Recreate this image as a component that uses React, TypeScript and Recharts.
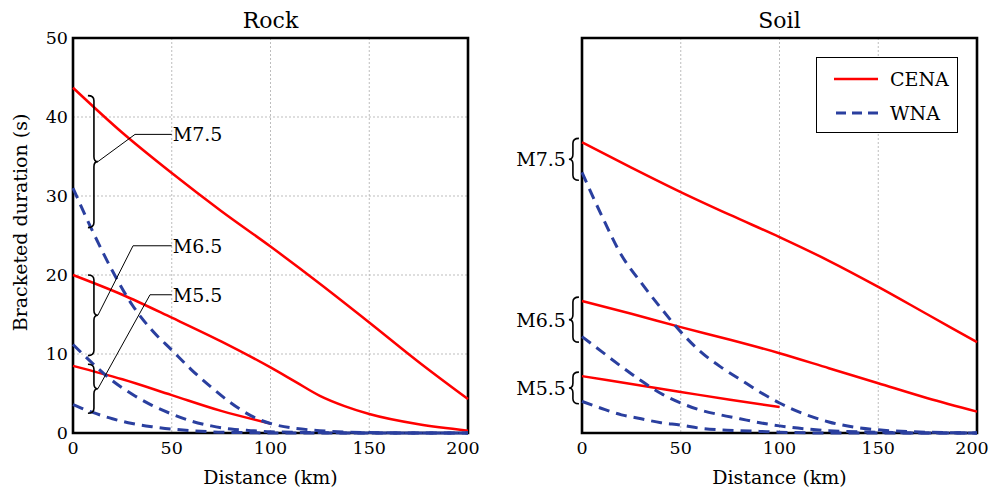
import { CartesianGrid, Legend, Line, LineChart, ReferenceArea, ReferenceLine, XAxis, YAxis } from 'recharts';

const FONT = 'DejaVu Serif';
const RED = '#ff0000';
const BLUE = '#2a3f9f';

// distances (km)
const cenaDist = [0, 25, 50, 75, 100, 125, 150, 175, 200];
const cenaDistFine = [0, 25, 50, 75, 100, 112.5, 125, 137.5, 150, 175, 200];
const cenaDistShort = [0, 25, 50, 75, 100];
const wnaDist = [0, 10, 20, 30, 40, 50, 60, 70, 80, 90, 100, 125, 150, 175, 200];

// Rock, bracketed duration (s)
const rockCena75 = [43.7, 38.0, 32.9, 28.1, 23.6, 18.9, 14.0, 9.0, 4.3];
const rockCena65 = [20.0, 17.5, 14.6, 11.6, 8.3, 6.5, 4.7, 3.4, 2.4, 1.1, 0.3];
const rockCena55 = [8.5, 6.8, 4.8, 2.8, 1.2];
const rockWna75 = [31.0, 25.5, 20.5, 16.2, 13.0, 10.5, 8.0, 5.8, 3.8, 2.2, 1.2, 0.3, 0.05, 0, 0];
const rockWna65 = [11.2, 8.8, 6.6, 4.9, 3.5, 2.4, 1.5, 0.9, 0.5, 0.3, 0.15, 0.05, 0, 0, 0];
const rockWna55 = [3.6, 2.6, 1.8, 1.2, 0.8, 0.5, 0.3, 0.15, 0.08, 0.03, 0, 0, 0, 0, 0];

// Soil, bracketed duration (s)
const soilCena75 = [36.8, 33.6, 30.5, 27.6, 24.8, 21.8, 18.5, 15.0, 11.5];
const soilCena65 = [16.7, 15.1, 13.4, 11.8, 10.1, 8.2, 6.3, 4.4, 2.7];
const soilCena55 = [7.2, 6.2, 5.2, 4.2, 3.3];
const soilWna75 = [33.0, 27.5, 22.5, 19.0, 15.8, 12.8, 10.3, 8.4, 6.8, 5.2, 3.8, 1.4, 0.4, 0.1, 0];
const soilWna65 = [12.2, 10.3, 8.4, 6.6, 5.0, 3.8, 2.9, 2.3, 1.8, 1.3, 0.9, 0.3, 0.1, 0, 0];
const soilWna55 = [4.0, 3.1, 2.3, 1.8, 1.3, 1.0, 0.6, 0.4, 0.3, 0.2, 0.1, 0, 0, 0, 0];

const xTicks = [0, 50, 100, 150, 200];
const yTicks = [0, 10, 20, 30, 40, 50];
const magnitudes = ['M7.5', 'M6.5', 'M5.5'];

// brace annotations in data units: [x, top, bottom]
const rockBraces = [[10.6, 42.7, 26.0], [10.6, 20.0, 9.8], [10.6, 8.7, 2.5]];
const rockElbows = [[31.4, 37.8], [30.4, 23.7], [39.0, 17.5]];
const soilBraces = [[-4.6, 37.3, 32.0], [-4.6, 17.2, 11.5], [-4.6, 7.7, 3.7]];

const zip = (xs: number[], ys: number[]) => ys.map((v, i) => ({ d: xs[i], v }));

const rockSeries = [
  { data: zip(cenaDist, rockCena75), wna: false },
  { data: zip(cenaDistFine, rockCena65), wna: false },
  { data: zip(cenaDistShort, rockCena55), wna: false },
  { data: zip(wnaDist, rockWna75), wna: true },
  { data: zip(wnaDist, rockWna65), wna: true },
  { data: zip(wnaDist, rockWna55), wna: true },
];

const soilSeries = [
  { data: zip(cenaDist, soilCena75), wna: false },
  { data: zip(cenaDist, soilCena65), wna: false },
  { data: zip(cenaDistShort, soilCena55), wna: false },
  { data: zip(wnaDist, soilWna75), wna: true },
  { data: zip(wnaDist, soilWna65), wna: true },
  { data: zip(wnaDist, soilWna55), wna: true },
];

const braceShape = (dir: number, text?: string) => (p: any) => {
  const x = p.x1;
  const top = Math.min(p.y1, p.y2);
  const bot = Math.max(p.y1, p.y2);
  const ym = (top + bot) / 2;
  const e = 6 * dir;
  const t = 4 * dir;
  const d = `M${x - e},${top} Q${x},${top} ${x},${top + 5} L${x},${ym - 5} Q${x},${ym} ${x + t},${ym} ` +
    `Q${x},${ym} ${x},${ym + 5} L${x},${bot - 5} Q${x},${bot} ${x - e},${bot}`;
  return (
    <g>
      <path d={d} fill="none" stroke="#000" strokeWidth={1.6} />
      {text && (
        <text x={x + t - 3} y={ym} textAnchor="end" dominantBaseline="central"
              fontFamily={FONT} fontSize={19} fill="#000">{text}</text>
      )}
    </g>
  );
};

const leaderLabel = (text: string) => (p: any) => (
  <g>
    <line x1={p.x1} y1={p.y1} x2={p.x2} y2={p.y2} stroke="#000" strokeWidth={1} />
    <text x={p.x2 + 1} y={p.y2} dominantBaseline="central" fontFamily={FONT} fontSize={19} fill="#000">{text}</text>
  </g>
);

const LegendBox = () => (
  <div style={{
    border: '1.5px solid #000', background: '#fff', width: 142, height: 76, boxSizing: 'border-box',
    fontFamily: FONT, fontSize: 19, color: '#000', padding: '4px 0 0 16px',
  }}>
    <div style={{ display: 'flex', alignItems: 'center', height: 34 }}>
      <svg width={46} height={6}><line x1={1} y1={3} x2={45} y2={3} stroke={RED} strokeWidth={2.5} /></svg>
      <span style={{ marginLeft: 11 }}>CENA</span>
    </div>
    <div style={{ display: 'flex', alignItems: 'center', height: 34 }}>
      <svg width={46} height={6}><line x1={3} y1={3} x2={45} y2={3} stroke={BLUE} strokeWidth={3} strokeDasharray="10 6" /></svg>
      <span style={{ marginLeft: 11 }}>WNA</span>
    </div>
  </div>
);

const yLabel = (p: any) => {
  const vb = p.viewBox || { x: 0, y: 38, width: 73, height: 395 };
  const cx = vb.x + 20;
  const cy = vb.y + vb.height / 2 - 13;
  return (
    <text x={cx} y={cy} transform={`rotate(-90, ${cx}, ${cy})`} textAnchor="middle" dominantBaseline="central"
          fontFamily={FONT} fontSize={19} fill="#000">Bracketed duration (s)</text>
  );
};

const tickStyle = { fontFamily: FONT, fontSize: 17.5, fill: '#000' };

// last x label is nudged inward so it stays on the page, as in the source figure
const XTick = (p: any) => (
  <text x={p.x + (p.payload.value === 200 ? -5 : 0)} y={p.y} dy="0.71em" textAnchor="middle"
        fontFamily={FONT} fontSize={17.5} fill="#000">{p.payload.value}</text>
);

function Panel({ title, series, left, width, margin, soil }: any) {
  const plotW = width - margin.left - margin.right - (soil ? 1 : 73);
  const plotX = margin.left + (soil ? 1 : 73);
  return (
    <div style={{ position: 'absolute', left, top: 0, width, height: 490 }}>
      <div style={{
        position: 'absolute', left: plotX, top: 9, width: plotW, textAlign: 'center',
        fontFamily: FONT, fontSize: 22, lineHeight: '24px', color: '#000',
      }}>{title}</div>
      <LineChart width={width} height={490} margin={margin} style={{ fontFamily: FONT }}>
        <CartesianGrid stroke="#bdbdbd" strokeDasharray="2 2" strokeWidth={1} />
        <XAxis type="number" dataKey="d" domain={[0, 200]} ticks={xTicks} allowDuplicatedCategory={false}
               height={57} tickSize={0} tickMargin={9} axisLine={false} tick={<XTick />}
               label={{ value: 'Distance (km)', position: 'insideBottom', offset: 6, fontFamily: FONT, fontSize: 19, fill: '#000' }} />
        {soil ? (
          <YAxis type="number" domain={[0, 50]} ticks={yTicks} width={1} tick={false} tickLine={false} axisLine={false} />
        ) : (
          <YAxis type="number" domain={[0, 50]} ticks={yTicks} width={73} tickSize={0} tickMargin={5}
                 axisLine={false} tick={tickStyle} label={yLabel} />
        )}
        <ReferenceArea x1={0} x2={200} y1={0} y2={50} fill="none" stroke="#000" strokeWidth={2.6} ifOverflow="visible" />
        {series.map((s: any, i: number) => (
          <Line key={i} data={s.data} dataKey="v" type="monotone" dot={false} activeDot={false}
                stroke={s.wna ? BLUE : RED} strokeWidth={s.wna ? 3 : 2.5}
                strokeDasharray={s.wna ? '11 7' : undefined} isAnimationActive={false} />
        ))}
        {!soil && rockBraces.map((b, i) => (
          <ReferenceLine key={'b' + i} segment={[{ x: b[0], y: b[1] }, { x: b[0], y: b[2] }]}
                         ifOverflow="visible" shape={braceShape(1)} />
        ))}
        {!soil && rockBraces.map((b, i) => (
          <ReferenceLine key={'l' + i}
                         segment={[{ x: b[0] + 2, y: (b[1] + b[2]) / 2 }, { x: rockElbows[i][0], y: rockElbows[i][1] }]}
                         ifOverflow="visible" stroke="#000" strokeWidth={1} />
        ))}
        {!soil && rockElbows.map((e, i) => (
          <ReferenceLine key={'h' + i} segment={[{ x: e[0], y: e[1] }, { x: 50, y: e[1] }]}
                         ifOverflow="visible" shape={leaderLabel(magnitudes[i])} />
        ))}
        {soil && soilBraces.map((b, i) => (
          <ReferenceLine key={'s' + i} segment={[{ x: b[0], y: b[1] }, { x: b[0], y: b[2] }]}
                         ifOverflow="visible" shape={braceShape(-1, magnitudes[i])} />
        ))}
        {soil && (
          <Legend layout="vertical" align="center" verticalAlign="middle" content={<LegendBox />}
                  wrapperStyle={{ left: 336, top: 57, width: 142, height: 76 }} />
        )}
      </LineChart>
    </div>
  );
}

export default function App() {
  return (
    <div style={{ position: 'absolute', left: 0, top: 0, width: 991, height: 490, background: '#fff' }}>
      <Panel title="Rock" series={rockSeries} left={0} width={480}
             margin={{ top: 38, right: 12, bottom: 0, left: 0 }} />
      <Panel title="Soil" series={soilSeries} left={480} width={511} soil
             margin={{ top: 38, right: 14, bottom: 0, left: 101 }} />
    </div>
  );
}
